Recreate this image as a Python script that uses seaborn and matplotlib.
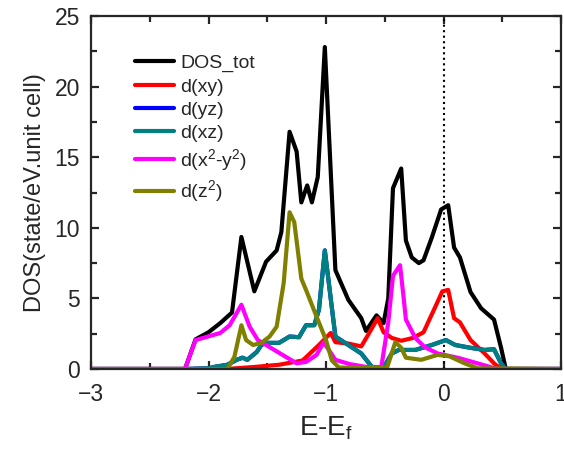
import pandas as pd
import matplotlib
matplotlib.use('Agg')
import matplotlib.pyplot as plt
import seaborn as sns
from matplotlib.ticker import MultipleLocator

# values
labels = ['DOS_tot', 'd(xy)', 'd(yz)', 'd(xz)', r'd(x$^2$-y$^2$)', r'd(z$^2$)']
colors = ['#000000', '#ff0000', '#0000ff', '#008080', '#ff00ff', '#808000']

E_tot = [-3.0, -2.2, -2.11, -2.0, -1.9, -1.8, -1.72, -1.61, -1.51, -1.42, -1.38, -1.31, -1.25,
         -1.21, -1.16, -1.12, -1.07, -1.01, -0.92, -0.81, -0.7, -0.66, -0.57, -0.51, -0.47,
         -0.43, -0.36, -0.32, -0.27, -0.21, -0.17, -0.1, -0.02, 0.04, 0.09, 0.14, 0.23, 0.32,
         0.43, 0.49, 0.53, 1.0]
dos_tot = [0, 0, 2.1, 2.6, 3.25, 4.0, 9.35, 5.5, 7.6, 8.4, 9.7, 16.8, 15.4,
           11.8, 13.0, 11.8, 13.6, 22.8, 7.0, 4.9, 3.6, 2.7, 3.8, 3.25, 5.0,
           12.8, 14.2, 9.1, 7.9, 7.5, 7.7, 9.3, 11.3, 11.6, 8.6, 7.9, 5.45, 4.3,
           3.5, 1.5, 0, 0]

E_xy = [-3.0, -1.85, -1.6, -1.4, -1.2, -1.06, -0.96, -0.92, -0.81, -0.7, -0.65, -0.56, -0.51,
        -0.44, -0.36, -0.26, -0.17, -0.07, -0.01, 0.04, 0.09, 0.14, 0.23, 0.35, 0.43, 0.49, 1.0]
dos_xy = [0, 0, 0.15, 0.3, 0.6, 1.7, 2.55, 1.9, 1.8, 1.6, 2.3, 3.6, 2.6,
          2.2, 2.0, 2.2, 2.6, 4.4, 5.5, 5.6, 3.6, 3.3, 2.05, 1.1, 0.4, 0, 0]

E_xz = [-3.0, -2.2, -2.0, -1.95, -1.84, -1.76, -1.71, -1.67, -1.59, -1.55, -1.51, -1.40, -1.31,
        -1.23, -1.17, -1.1, -1.06, -1.01, -0.92, -0.81, -0.7, -0.61, -0.51, -0.44, -0.38, -0.24,
        -0.1, 0.02, 0.1, 0.23, 0.35, 0.43, 0.49, 0.53, 1.0]
dos_xz = [0, 0, 0.05, 0.15, 0.3, 0.65, 0.8, 0.65, 1.2, 1.7, 1.85, 1.85, 2.3,
          2.25, 3.1, 3.1, 4.2, 8.4, 2.3, 1.7, 1.1, 0.15, 0.1, 1.1, 1.35, 1.35,
          1.7, 2.05, 1.7, 1.5, 1.35, 1.4, 0.4, 0, 0]

# d(yz) lies under d(xz) almost everywhere in the picture
E_yz = list(E_xz)
dos_yz = list(dos_xz)

E_x2y2 = [-3.0, -2.2, -2.11, -1.9, -1.82, -1.72, -1.65, -1.58, -1.48, -1.34, -1.25, -1.17, -1.08,
          -1.02, -0.92, -0.8, -0.66, -0.53, -0.47, -0.43, -0.37, -0.34, -0.32, -0.24, -0.16,
          -0.05, 0.12, 0.29, 0.46, 1.0]
dos_x2y2 = [0, 0, 2.05, 2.55, 3.1, 4.55, 3.0, 2.05, 1.55, 0.85, 0.4, 0.5, 1.0,
            1.9, 0.65, 0.35, 0.15, 0.1, 3.3, 6.6, 7.35, 5.1, 3.5, 2.2, 1.55,
            1.1, 0.8, 0.4, 0, 0]

E_z2 = [-3.0, -1.84, -1.78, -1.72, -1.68, -1.62, -1.55, -1.48, -1.42, -1.36, -1.31, -1.27, -1.21,
        -1.17, -1.08, -1.0, -0.95, -0.89, -0.48, -0.41, -0.36, -0.32, -0.19, -0.05, 0.05, 0.18,
        0.29, 1.0]
dos_z2 = [0, 0, 0.85, 3.1, 2.05, 1.7, 1.85, 2.3, 3.0, 6.1, 11.1, 10.4, 6.4,
          5.6, 3.7, 2.05, 0.6, 0.1, 0.1, 1.9, 1.5, 0.8, 0.65, 1.0, 0.9, 0.4,
          0.05, 0]

series = [(E_tot, dos_tot), (E_xy, dos_xy), (E_yz, dos_yz),
          (E_xz, dos_xz), (E_x2y2, dos_x2y2), (E_z2, dos_z2)]

frames = []
for lab, (e, d) in zip(labels, series):
    frames.append(pd.DataFrame({'E': e, 'DOS': d, 'orbital': lab}))
df = pd.concat(frames, ignore_index=True)

sns.set_style('ticks')
plt.rcParams['font.family'] = ['Liberation Sans', 'DejaVu Sans']
plt.rcParams['mathtext.fontset'] = 'custom'
plt.rcParams['mathtext.rm'] = 'Liberation Sans'
plt.rcParams['mathtext.it'] = 'Liberation Sans:italic'

fig = plt.figure(figsize=(5.64, 4.53), dpi=100)
ax = fig.add_axes([91 / 564, 1 - 369 / 453, 470 / 564, 353 / 453])

sns.lineplot(data=df, x='E', y='DOS', hue='orbital', hue_order=labels,
             palette=dict(zip(labels, colors)), estimator=None, sort=False,
             lw=3, legend=False, ax=ax)

ax.legend(handles=ax.lines[:6], labels=labels, loc='upper left',
          bbox_to_anchor=(0.057, 0.94), frameon=False, fontsize=14,
          handlelength=2.0, handletextpad=0.3, labelspacing=0.28)

ax.axvline(0, color='black', ls=':', lw=1.5, zorder=1)

ax.set_xlim(-3, 1)
ax.set_ylim(0, 25)
ax.xaxis.set_major_locator(MultipleLocator(1))
ax.xaxis.set_minor_locator(MultipleLocator(0.5))
ax.yaxis.set_major_locator(MultipleLocator(5))
ax.yaxis.set_minor_locator(MultipleLocator(2.5))
ax.tick_params(which='both', direction='in', top=True, right=True, width=1.6, labelsize=16.5)
ax.tick_params(which='major', length=6)
ax.tick_params(which='minor', length=4)
ax.tick_params(axis='x', which='major', pad=10)
ax.tick_params(axis='y', which='major', pad=8)
for s in ax.spines.values():
    s.set_linewidth(1.6)

ax.set_xlabel(r'E-E$_\mathrm{f}$', fontsize=20, labelpad=6)
ax.set_ylabel('DOS(state/eV.unit cell)', fontsize=17, labelpad=6)

fig.savefig('out.png', dpi=100)
